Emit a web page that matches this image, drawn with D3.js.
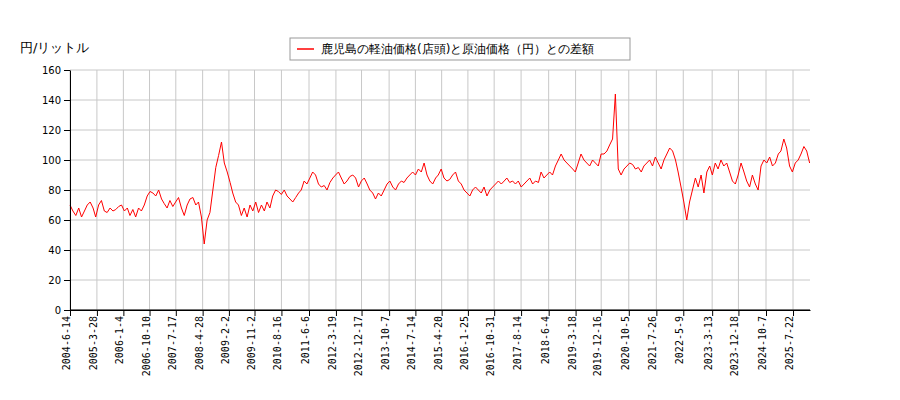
<!DOCTYPE html>
<html lang="ja">
<head>
<meta charset="UTF-8">
<script src="https://cdn.jsdelivr.net/npm/d3@7"></script>
<style>
  body { margin: 0; background: #fff; }
  text { font-family: "DejaVu Sans", sans-serif; }
</style>
</head>
<body>
<script>
// monthly values, starting 2004-06
var startYear = 2004, startMonth = 5;
var values = [
  70,66,63,68,62,66,70,
  72,68,62,70,73,66,65,68,66,67,69,70,
  66,68,63,67,62,68,66,70,76,79,78,76,
  80,74,71,68,73,69,72,75,68,63,70,74,
  75,70,72,62,44,60,65,80,95,103,112,98,
  92,85,78,72,70,63,68,62,70,66,72,65,
  70,66,72,68,76,80,79,77,80,76,74,72,
  75,78,80,86,84,88,92,90,84,82,83,80,
  85,88,90,92,88,84,86,89,90,88,82,86,
  88,84,80,78,74,78,76,80,84,86,82,80,
  84,86,85,88,90,92,90,94,92,98,90,86,
  84,88,90,94,88,86,87,90,92,86,84,80,
  78,76,80,82,80,78,82,76,80,82,84,86,
  84,86,88,85,86,84,86,82,84,86,88,84,
  86,85,92,88,90,92,90,96,100,104,100,98,
  96,94,92,98,104,100,98,96,100,98,96,104,
  104,106,110,114,144,94,90,94,96,98,97,94,
  95,92,96,98,100,96,102,98,94,100,104,108,
  106,100,92,82,72,60,72,80,88,82,90,78,
  92,96,90,98,94,100,96,98,92,86,84,90,
  98,92,86,82,90,84,80,96,100,98,102,96,
  98,104,106,114,108,96,92,98,100,104,109,106,
  98
];
var tickLabels = ["2004-6-14","2005-3-28","2006-1-4","2006-10-10","2007-7-17","2008-4-28",
  "2009-2-2","2009-11-2","2010-8-16","2011-6-6","2012-3-19","2012-12-17","2013-10-7",
  "2014-7-14","2015-4-20","2016-1-25","2016-10-31","2017-8-14","2018-6-4","2019-3-18",
  "2019-12-16","2020-10-5","2021-7-26","2022-5-9","2023-3-13","2023-12-18","2024-10-7","2025-7-22"];
var yTicks = [0,20,40,60,80,100,120,140,160];
var legendLabel = "鹿児島の軽油価格(店頭)と原油価格（円）との差額";
var yLabel = "円/リットル";

var parse = d3.timeParse("%Y-%-m-%-d");
var data = values.map(function(v, i) {
  return { date: new Date(startYear, startMonth + i, 15), value: v };
});
data[0].date = parse("2004-6-14");

var svg = d3.select("body").append("svg").attr("width", 900).attr("height", 400);

var x = d3.scaleTime().domain([parse("2004-6-14"), parse("2026-1-19")]).range([70, 810]);
var y = d3.scaleLinear().domain([0, 160]).range([310, 70]);

// grid
svg.append("g").selectAll("line").data(tickLabels).enter().append("line")
  .attr("x1", d => x(parse(d))).attr("x2", d => x(parse(d)))
  .attr("y1", 70).attr("y2", 310).attr("stroke", "#c8c8c8");
svg.append("g").selectAll("line").data(yTicks).enter().append("line")
  .attr("x1", 70).attr("x2", 810)
  .attr("y1", d => y(d)).attr("y2", d => y(d)).attr("stroke", "#c8c8c8");

svg.append("path").datum(data)
  .attr("fill", "none").attr("stroke", "red").attr("stroke-width", 1)
  .attr("d", d3.line().x(d => x(d.date)).y(d => y(d.value)));

var axisX = d3.axisBottom(x).tickValues(tickLabels.map(parse))
  .tickFormat(d3.timeFormat("%Y-%-m-%-d")).tickSizeOuter(0);
var gx = svg.append("g").attr("transform", "translate(0,310)").call(axisX);
gx.selectAll("text").attr("transform", "rotate(-90)")
  .attr("x", -6).attr("y", -4).attr("dy", "0.35em")
  .style("text-anchor", "end").style("font-family", "DejaVu Sans Mono").style("font-size", "10px");

var gy = svg.append("g").attr("transform", "translate(70,0)")
  .call(d3.axisLeft(y).tickValues(yTicks).tickSizeOuter(0));
gy.selectAll("text").style("font-size", "10px");
svg.selectAll(".domain").attr("stroke", "#000");
svg.append("line").attr("x1", 70).attr("x2", 810).attr("y1", 310).attr("y2", 310).attr("stroke", "#000");

svg.append("text").attr("x", 20).attr("y", 52).style("font-size", "13px").text(yLabel);

var lg = svg.append("g");
lg.append("rect").attr("x", 290).attr("y", 38).attr("width", 340).attr("height", 22)
  .attr("fill", "#fff").attr("stroke", "#999");
lg.append("line").attr("x1", 297).attr("x2", 314).attr("y1", 49).attr("y2", 49)
  .attr("stroke", "red").attr("stroke-width", 1.5);
lg.append("text").attr("x", 321).attr("y", 53).style("font-size", "12px").text(legendLabel);
</script>
</body>
</html>
